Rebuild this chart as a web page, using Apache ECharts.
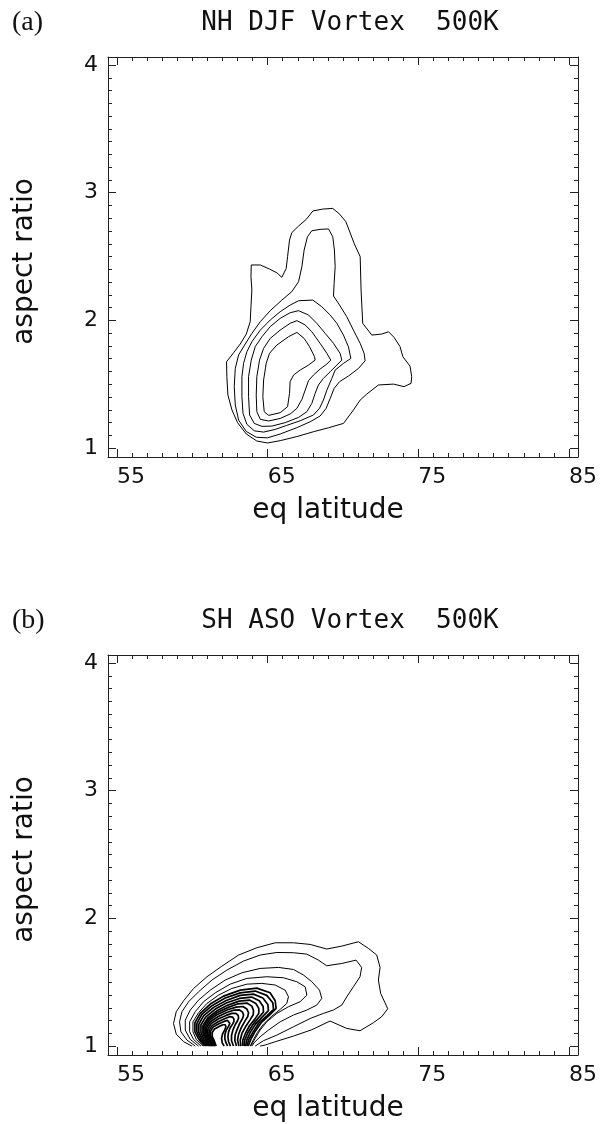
<!DOCTYPE html>
<html>
<head>
<meta charset="utf-8">
<script src="https://cdn.jsdelivr.net/npm/echarts@6.0.0/dist/echarts.min.js"></script>
<style>
html,body{margin:0;padding:0;background:#fff;}
#chart{width:604px;height:1124px;}
</style>
</head>
<body>
<div id="chart"></div>
<script>
// ---------- axes / ticks ----------
const X_RANGE = [54.4, 85.6];
const Y_RANGE = [0.93, 4.063];
const X_MAJOR = [55, 65, 75, 85];
const X_MINOR = [55,56,57,58,59,60,61,62,63,64,65,66,67,68,69,70,71,72,73,74,75,76,77,78,79,80,81,82,83,84,85];
const Y_MAJOR = [1, 2, 3, 4];
const Y_MINOR = [1.0,1.1,1.2,1.3,1.4,1.5,1.6,1.7,1.8,1.9,2.0,2.1,2.2,2.3,2.4,2.5,2.6,2.7,2.8,2.9,3.0,3.1,3.2,3.3,3.4,3.5,3.6,3.7,3.8,3.9,4.0];

const TITLE_A = 'NH DJF Vortex  500K';
const TITLE_B = 'SH ASO Vortex  500K';
const X_NAME = 'eq latitude';
const Y_NAME = 'aspect ratio';

// ---------- panel (a): NH DJF contours [eq latitude, aspect ratio] ----------
const NH_C1 = [[63.91,2.434],[64.51,2.434],[65.12,2.402],[65.61,2.373],[65.94,2.337],[66.23,2.407],[66.32,2.499],[66.45,2.629],[66.60,2.687],[67.05,2.739],[67.56,2.791],[68.00,2.857],[68.66,2.872],[69.32,2.877],[69.77,2.833],[70.19,2.773],[70.74,2.603],[71.14,2.499],[71.20,2.238],[71.31,1.977],[71.91,1.885],[72.57,1.893],[73.02,1.911],[73.39,1.867],[73.79,1.794],[73.97,1.716],[74.45,1.642],[74.56,1.559],[74.52,1.507],[74.05,1.481],[73.35,1.501],[72.35,1.494],[71.58,1.423],[71.14,1.376],[70.69,1.298],[70.03,1.193],[69.04,1.159],[68.04,1.128],[66.94,1.090],[65.83,1.058],[64.99,1.040],[64.28,1.055],[63.58,1.110],[63.00,1.199],[62.63,1.298],[62.36,1.415],[62.29,1.559],[62.27,1.676],[62.74,1.747],[63.18,1.815],[63.58,1.893],[63.84,1.990],[63.89,2.107],[63.95,2.238],[63.89,2.342]];
const NH_C2 = [[67.93,2.702],[68.48,2.713],[69.04,2.716],[69.32,2.655],[69.43,2.551],[69.48,2.420],[69.41,2.290],[69.37,2.191],[69.77,2.120],[70.25,2.029],[70.69,1.924],[71.14,1.820],[71.40,1.742],[71.47,1.684],[71.03,1.624],[70.36,1.564],[69.77,1.520],[69.41,1.467],[69.15,1.389],[68.88,1.311],[68.48,1.251],[67.82,1.206],[66.94,1.160],[65.83,1.110],[64.99,1.080],[64.24,1.085],[63.58,1.130],[63.07,1.219],[62.85,1.337],[62.78,1.481],[62.85,1.624],[63.07,1.729],[63.47,1.807],[63.95,1.898],[64.51,1.990],[65.17,2.076],[65.94,2.159],[66.60,2.225],[67.05,2.303],[67.27,2.420],[67.42,2.551],[67.64,2.655]];
const NH_C3 = [[67.05,2.154],[68.00,2.159],[68.59,2.107],[69.15,2.042],[69.59,1.977],[70.03,1.885],[70.36,1.794],[70.52,1.702],[70.03,1.663],[69.48,1.611],[69.26,1.546],[68.93,1.454],[68.70,1.376],[68.44,1.311],[68.04,1.259],[67.16,1.214],[66.27,1.178],[65.50,1.146],[64.73,1.125],[64.11,1.135],[63.62,1.186],[63.36,1.272],[63.29,1.402],[63.29,1.559],[63.40,1.663],[63.62,1.755],[63.95,1.833],[64.51,1.924],[65.17,2.003],[65.83,2.068],[66.49,2.120]];
const NH_C4 = [[67.05,2.076],[67.71,2.042],[68.26,1.977],[68.82,1.898],[69.37,1.820],[69.81,1.742],[69.92,1.689],[69.59,1.650],[69.15,1.598],[68.70,1.546],[68.37,1.494],[68.15,1.428],[67.93,1.350],[67.60,1.285],[67.05,1.240],[66.16,1.199],[65.28,1.172],[64.62,1.170],[64.11,1.193],[63.80,1.259],[63.73,1.402],[63.73,1.559],[63.91,1.689],[64.17,1.794],[64.62,1.872],[65.17,1.951],[65.83,2.016],[66.49,2.060]];
const NH_C5 = [[66.94,1.998],[67.49,1.964],[67.93,1.911],[68.48,1.820],[68.93,1.742],[69.19,1.689],[68.93,1.658],[68.48,1.619],[68.04,1.572],[67.71,1.528],[67.49,1.454],[67.27,1.381],[66.94,1.311],[66.49,1.267],[65.83,1.232],[65.06,1.212],[64.51,1.225],[64.28,1.285],[64.24,1.415],[64.28,1.559],[64.46,1.689],[64.73,1.781],[65.17,1.859],[65.83,1.924],[66.49,1.977]];
const NH_C6 = [[66.94,1.906],[67.42,1.859],[67.78,1.794],[68.11,1.716],[68.15,1.689],[67.71,1.650],[67.16,1.611],[66.72,1.572],[66.49,1.520],[66.45,1.428],[66.32,1.324],[65.83,1.277],[65.06,1.256],[64.77,1.285],[64.68,1.402],[64.73,1.533],[64.90,1.663],[65.12,1.742],[65.61,1.807],[66.38,1.872]];

// ---------- panel (b): SH ASO contours [eq latitude, aspect ratio] ----------
const SH_C1 = [[59.97,1.00],[59.42,1.034],[58.93,1.094],[58.75,1.177],[58.93,1.269],[59.42,1.355],[60.08,1.451],[60.97,1.543],[61.96,1.626],[63.07,1.713],[64.28,1.770],[65.50,1.809],[66.71,1.809],[67.82,1.796],[68.92,1.760],[69.92,1.783],[71.02,1.817],[71.69,1.765],[72.24,1.713],[72.46,1.616],[72.35,1.517],[72.50,1.412],[72.79,1.339],[72.97,1.292],[72.57,1.230],[72.02,1.183],[71.13,1.120],[70.25,1.138],[69.14,1.196],[67.93,1.128],[66.71,1.078],[65.50,1.034],[64.83,1.008],[64.50,1.00]];
const SH_C2 = [[60.19,1.00],[59.64,1.047],[59.24,1.112],[59.15,1.190],[59.31,1.269],[59.75,1.347],[60.41,1.425],[61.30,1.517],[62.29,1.595],[63.40,1.666],[64.50,1.713],[65.61,1.733],[66.71,1.731],[67.60,1.720],[68.37,1.673],[68.92,1.629],[69.92,1.647],[70.87,1.673],[71.24,1.616],[71.13,1.543],[70.69,1.464],[70.25,1.386],[69.92,1.321],[69.36,1.282],[68.70,1.256],[67.82,1.216],[66.71,1.151],[65.61,1.086],[64.72,1.042],[64.17,1.00]];
const SH_C3 = [[60.41,1.00],[59.86,1.052],[59.53,1.125],[59.53,1.203],[59.86,1.282],[60.41,1.360],[61.19,1.438],[62.18,1.517],[63.29,1.574],[64.50,1.608],[65.72,1.616],[66.71,1.600],[67.38,1.556],[67.93,1.504],[68.44,1.438],[68.59,1.373],[68.26,1.321],[67.60,1.282],[66.71,1.243],[65.83,1.190],[65.05,1.125],[64.50,1.073],[64.10,1.026],[63.95,1.00]];
const SH_C4 = [[60.57,1.00],[60.08,1.052],[59.82,1.112],[59.82,1.190],[60.19,1.269],[60.74,1.347],[61.52,1.417],[62.51,1.485],[63.62,1.530],[64.94,1.543],[66.05,1.535],[66.93,1.504],[67.49,1.464],[67.60,1.399],[67.15,1.347],[66.38,1.308],[65.61,1.256],[64.94,1.190],[64.50,1.125],[64.17,1.060],[63.88,1.00]];
const SH_C5 = [[60.70,1.00],[60.26,1.052],[60.04,1.112],[60.04,1.190],[60.41,1.261],[60.97,1.334],[61.74,1.399],[62.62,1.451],[63.62,1.485],[64.61,1.491],[65.50,1.478],[66.16,1.438],[66.38,1.386],[66.27,1.334],[65.83,1.287],[65.28,1.235],[64.72,1.172],[64.32,1.107],[64.06,1.052],[63.84,1.00]];
const SH_D1 = [[60.81,1.00],[60.43,1.052],[60.17,1.112],[60.17,1.183],[60.52,1.256],[61.19,1.329],[62.07,1.391],[63.18,1.438],[64.28,1.454],[65.16,1.417],[65.50,1.355],[65.56,1.295],[65.12,1.243],[64.57,1.183],[64.15,1.112],[63.88,1.052],[63.71,1.00]];
const SH_D2 = [[60.90,1.00],[60.55,1.052],[60.30,1.112],[60.30,1.177],[60.63,1.248],[61.30,1.316],[62.18,1.376],[63.18,1.417],[64.17,1.431],[64.94,1.397],[65.34,1.339],[65.39,1.287],[64.94,1.237],[64.39,1.177],[64.02,1.109],[63.75,1.052],[63.62,1.00]];
const SH_D3 = [[60.99,1.00],[60.66,1.052],[60.43,1.109],[60.43,1.172],[60.74,1.237],[61.41,1.303],[62.25,1.357],[63.18,1.397],[64.06,1.407],[64.68,1.376],[65.01,1.326],[65.05,1.277],[64.66,1.230],[64.19,1.172],[63.84,1.107],[63.62,1.049],[63.53,1.00]];
const SH_D4 = [[61.08,1.00],[60.77,1.052],[60.57,1.107],[60.57,1.167],[60.88,1.227],[61.52,1.290],[62.29,1.339],[63.13,1.373],[63.93,1.384],[64.44,1.355],[64.70,1.310],[64.72,1.266],[64.39,1.222],[63.99,1.164],[63.68,1.104],[63.48,1.049],[63.44,1.00]];
const SH_D5 = [[61.16,1.00],[60.88,1.049],[60.70,1.104],[60.70,1.159],[61.01,1.219],[61.63,1.277],[62.36,1.321],[63.11,1.352],[63.79,1.360],[64.21,1.334],[64.41,1.295],[64.41,1.256],[64.15,1.211],[63.79,1.159],[63.53,1.102],[63.35,1.047],[63.35,1.00]];
const SH_D6 = [[61.19,1.00],[60.92,1.049],[60.77,1.102],[60.77,1.154],[61.05,1.209],[61.65,1.263],[62.38,1.303],[63.04,1.331],[63.62,1.337],[63.95,1.313],[64.06,1.279],[64.04,1.245],[63.82,1.203],[63.53,1.151],[63.29,1.099],[63.18,1.047],[63.22,1.00]];
const SH_D7 = [[61.25,1.00],[61.01,1.049],[60.85,1.099],[60.85,1.146],[61.12,1.201],[61.67,1.248],[62.34,1.284],[62.91,1.305],[63.35,1.310],[63.62,1.290],[63.73,1.261],[63.68,1.232],[63.48,1.193],[63.24,1.143],[63.07,1.094],[63.00,1.047],[63.09,1.00]];
const SH_D8 = [[61.32,1.00],[61.10,1.049],[60.94,1.096],[60.94,1.141],[61.19,1.190],[61.72,1.232],[62.29,1.263],[62.78,1.282],[63.13,1.284],[63.33,1.266],[63.40,1.243],[63.33,1.216],[63.15,1.180],[62.98,1.133],[62.84,1.089],[62.82,1.044],[62.93,1.00]];
const SH_D9 = [[61.38,1.00],[61.19,1.047],[61.03,1.094],[61.03,1.133],[61.25,1.177],[61.74,1.214],[62.25,1.240],[62.62,1.256],[62.89,1.256],[63.04,1.240],[63.07,1.219],[63.00,1.198],[62.84,1.167],[62.69,1.125],[62.60,1.083],[62.60,1.042],[62.73,1.00]];
const SH_D10 = [[61.45,1.00],[61.27,1.047],[61.12,1.089],[61.12,1.125],[61.32,1.162],[61.74,1.193],[62.18,1.216],[62.47,1.230],[62.67,1.227],[62.76,1.211],[62.76,1.193],[62.67,1.172],[62.51,1.143],[62.40,1.109],[62.36,1.073],[62.40,1.036],[62.53,1.00]];
const SH_D11 = [[61.52,1.00],[61.36,1.044],[61.21,1.083],[61.21,1.117],[61.38,1.149],[61.76,1.175],[62.11,1.193],[62.34,1.201],[62.47,1.196],[62.49,1.177],[62.40,1.154],[62.25,1.125],[62.16,1.091],[62.16,1.055],[62.23,1.026],[62.34,1.00]];
const SH_D12 = [[61.58,1.00],[61.45,1.042],[61.32,1.075],[61.32,1.107],[61.47,1.133],[61.78,1.154],[62.03,1.167],[62.18,1.167],[62.23,1.151],[62.14,1.125],[62.00,1.094],[61.94,1.060],[61.98,1.026],[62.11,1.00]];

const NH_CLOSED = [NH_C1, NH_C2, NH_C3, NH_C4, NH_C5, NH_C6];
const SH_OUTER = [SH_C1, SH_C2, SH_C3, SH_C4, SH_C5];
const SH_DENSE = [SH_D1, SH_D2, SH_D3, SH_D4, SH_D5, SH_D6, SH_D7, SH_D8, SH_D9, SH_D10, SH_D11, SH_D12];

// ---------- styling ----------
const FONT = 'DejaVu Sans';
const INK = '#111';
const LINE = '#222';

function xAxes(g) {
  const base = {gridIndex: g, type: 'value', min: X_RANGE[0], max: X_RANGE[1],
    splitLine: {show: false}, silent: true};
  const line = {show: true, onZero: false, lineStyle: {color: LINE, width: 1}};
  return [
    Object.assign({}, base, {position: 'bottom', axisLine: line,
      axisTick: {show: true, inside: true, length: 8, customValues: X_MAJOR, lineStyle: {color: LINE}},
      axisLabel: {show: true, customValues: X_MAJOR, align: 'left', margin: 9, fontSize: 22, fontFamily: FONT, color: INK},
      name: X_NAME, nameLocation: 'middle', nameGap: 40,
      nameTextStyle: {fontSize: 28, fontFamily: FONT, color: INK, padding: [0, 30, 0, 0]}}),
    Object.assign({}, base, {position: 'bottom', axisLine: {show: false, onZero: false},
      axisTick: {show: true, inside: true, length: 4, customValues: X_MINOR, lineStyle: {color: LINE}},
      axisLabel: {show: false}}),
    Object.assign({}, base, {position: 'top', axisLine: line,
      axisTick: {show: true, inside: true, length: 8, customValues: X_MAJOR, lineStyle: {color: LINE}},
      axisLabel: {show: false}}),
    Object.assign({}, base, {position: 'top', axisLine: {show: false, onZero: false},
      axisTick: {show: true, inside: true, length: 4, customValues: X_MINOR, lineStyle: {color: LINE}},
      axisLabel: {show: false}})
  ];
}
function yAxes(g) {
  const base = {gridIndex: g, type: 'value', min: Y_RANGE[0], max: Y_RANGE[1],
    splitLine: {show: false}, silent: true};
  const line = {show: true, onZero: false, lineStyle: {color: LINE, width: 1}};
  return [
    Object.assign({}, base, {position: 'left', axisLine: line,
      axisTick: {show: true, inside: true, length: 8, customValues: Y_MAJOR, lineStyle: {color: LINE}},
      axisLabel: {show: true, customValues: Y_MAJOR, margin: 10, fontSize: 22, fontFamily: FONT, color: INK},
      name: Y_NAME, nameLocation: 'middle', nameGap: 69,
      nameTextStyle: {fontSize: 28, fontFamily: FONT, color: INK, padding: [0, 9, 0, 0]}}),
    Object.assign({}, base, {position: 'left', axisLine: {show: false, onZero: false},
      axisTick: {show: true, inside: true, length: 4, customValues: Y_MINOR, lineStyle: {color: LINE}},
      axisLabel: {show: false}}),
    Object.assign({}, base, {position: 'right', axisLine: line,
      axisTick: {show: true, inside: true, length: 8, customValues: Y_MAJOR, lineStyle: {color: LINE}},
      axisLabel: {show: false}}),
    Object.assign({}, base, {position: 'right', axisLine: {show: false, onZero: false},
      axisTick: {show: true, inside: true, length: 4, customValues: Y_MINOR, lineStyle: {color: LINE}},
      axisLabel: {show: false}})
  ];
}

function contour(data, axisIdx, closed, width) {
  return {
    type: 'line', xAxisIndex: axisIdx, yAxisIndex: axisIdx,
    data: closed ? data.concat([data[0]]) : data,
    showSymbol: false, symbol: 'none', smooth: false, silent: true,
    lineStyle: {color: '#000', width: width}, animation: false
  };
}

const series = [];
NH_CLOSED.forEach(c => series.push(contour(c, 0, true, 1)));
SH_OUTER.forEach(c => series.push(contour(c, 4, false, 1)));
SH_DENSE.forEach(c => series.push(contour(c, 4, false, 1.7)));

const chart = echarts.init(document.getElementById('chart'), null, {renderer: 'canvas'});
chart.setOption({
  animation: false,
  backgroundColor: '#fff',
  title: [
    {text: TITLE_A, left: 350, top: 10, textAlign: 'center', padding: 0,
     textStyle: {fontFamily: 'DejaVu Sans Mono', fontSize: 26, fontWeight: 'normal', color: INK}},
    {text: '(a)', left: 12, top: 9, padding: 0,
     textStyle: {fontFamily: 'Liberation Serif', fontSize: 28, fontWeight: 'normal', color: INK}},
    {text: TITLE_B, left: 350, top: 608, textAlign: 'center', padding: 0,
     textStyle: {fontFamily: 'DejaVu Sans Mono', fontSize: 26, fontWeight: 'normal', color: INK}},
    {text: '(b)', left: 12, top: 607, padding: 0,
     textStyle: {fontFamily: 'Liberation Serif', fontSize: 28, fontWeight: 'normal', color: INK}}
  ],
  grid: [
    {left: 108, width: 470, top: 57, height: 400, containLabel: false, outerBoundsMode: 'none'},
    {left: 108, width: 470, top: 655, height: 400, containLabel: false, outerBoundsMode: 'none'}
  ],
  xAxis: xAxes(0).concat(xAxes(1)),
  yAxis: yAxes(0).concat(yAxes(1)),
  series: series
});
</script>
</body>
</html>
